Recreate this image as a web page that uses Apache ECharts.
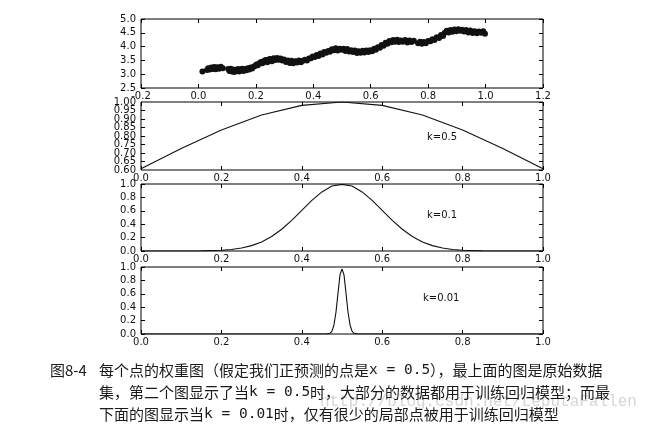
<!DOCTYPE html>
<html>
<head>
<meta charset="utf-8">
<script src="https://cdn.jsdelivr.net/npm/echarts@6/dist/echarts.min.js"></script>
<style>
html,body{margin:0;padding:0;background:#fff;}
#chart{width:652px;height:431px;}
</style>
</head>
<body>
<div id="chart"></div>
<script>
// ---- data ----
const dataX = [0.014,0.030,0.034,0.040,0.045,0.050,0.055,0.060,0.066,0.072,0.078,0.085,
  0.104,0.108,0.112,0.116,0.120,0.124,0.128,0.133,0.138,0.142,0.147,0.152,0.157,0.162,0.167,0.172,0.177,0.182,0.187,0.192,0.197,
  0.202,0.207,0.212,0.218,0.223,0.228,0.234,0.240,0.245,0.250,0.256,0.262,0.268,0.274,0.280,0.286,0.292,0.298,
  0.305,0.312,0.318,0.324,0.330,0.337,0.344,0.350,0.357,0.364,0.371,0.378,0.385,0.392,0.398,
  0.405,0.412,0.418,0.425,0.432,0.438,0.445,0.452,0.458,0.465,0.472,0.478,0.485,0.492,0.498,
  0.505,0.512,0.518,0.525,0.532,0.538,0.545,0.552,0.558,0.565,0.572,0.578,0.585,0.592,0.598,
  0.605,0.612,0.618,0.625,0.632,0.638,0.645,0.652,0.658,0.665,0.672,0.678,0.685,0.692,0.698,
  0.705,0.712,0.720,0.728,0.735,0.742,0.750,0.765,0.772,0.778,0.785,0.792,0.800,
  0.808,0.815,0.822,0.830,0.838,0.845,0.852,0.858,0.865,0.872,0.878,0.885,0.892,0.898,
  0.905,0.912,0.918,0.925,0.932,0.940,0.947,0.955,0.962,0.970,0.977,0.985,0.992,0.998];
const dataY = [3.10,3.15,3.22,3.17,3.24,3.19,3.26,3.18,3.25,3.20,3.27,3.22,
  3.19,3.12,3.20,3.10,3.17,3.08,3.16,3.11,3.19,3.10,3.16,3.20,3.12,3.19,3.14,3.22,3.17,3.24,3.21,3.27,3.30,
  3.35,3.32,3.40,3.44,3.40,3.48,3.51,3.43,3.53,3.55,3.47,3.58,3.51,3.59,3.52,3.57,3.50,3.53,
  3.44,3.50,3.41,3.49,3.40,3.47,3.42,3.50,3.43,3.49,3.52,3.50,3.57,3.58,3.64,
  3.62,3.70,3.66,3.75,3.71,3.80,3.78,3.84,3.81,3.90,3.87,3.94,3.86,3.92,3.89,
  3.92,3.84,3.91,3.82,3.87,3.80,3.86,3.77,3.83,3.78,3.85,3.79,3.86,3.80,3.87,
  3.83,3.92,3.89,3.98,3.96,4.06,4.03,4.14,4.10,4.20,4.16,4.24,4.18,4.25,4.17,
  4.22,4.18,4.24,4.15,4.22,4.17,4.21,4.12,4.18,4.10,4.17,4.12,4.20,
  4.19,4.27,4.24,4.34,4.31,4.42,4.38,4.50,4.57,4.51,4.60,4.54,4.62,4.56,
  4.63,4.57,4.61,4.55,4.60,4.51,4.58,4.49,4.56,4.48,4.55,4.50,4.56,4.47];

const k05X = [0.0,0.1,0.2,0.3,0.4,0.5,0.6,0.7,0.8,0.9,1.0];
const k05W = [0.607,0.726,0.835,0.923,0.980,1.0,0.980,0.923,0.835,0.726,0.607];

const k01X = [0.0,0.1,0.15,0.2,0.225,0.25,0.275,0.3,0.325,0.35,0.375,0.4,0.425,0.45,0.475,0.5,
  0.525,0.55,0.575,0.6,0.625,0.65,0.675,0.7,0.725,0.75,0.775,0.8,0.85,0.9,1.0];
const k01W = [0.0,0.0003,0.002,0.011,0.023,0.044,0.080,0.135,0.216,0.325,0.458,0.607,0.755,0.882,0.969,0.995,
  0.969,0.882,0.755,0.607,0.458,0.325,0.216,0.135,0.080,0.044,0.023,0.011,0.002,0.0003,0.0];

const k001X = [0.0,0.46,0.47,0.475,0.48,0.485,0.49,0.495,0.5,0.505,0.51,0.515,0.52,0.525,0.53,0.54,1.0];
const k001W = [0.0,0.0,0.011,0.044,0.135,0.325,0.607,0.882,0.97,0.882,0.607,0.325,0.135,0.044,0.011,0.0,0.0];

const kLabels = ['k=0.5','k=0.1','k=0.01'];
const captionNo = '图8-4';
const captionLines = [
  ['每个点的权重图（假定我们正预测的点是','x = 0.5','），最上面的图是原始数据'],
  ['集，第二个图显示了当','k = 0.5','时，大部分的数据都用于训练回归模型；而最'],
  ['下面的图显示当','k = 0.01','时，仅有很少的局部点被用于训练回归模型']
];
const watermark = 'http://blog.csdn.net/LeputaFallen';

// ---- chart ----
const pair = (xs, ys) => xs.map((x, i) => [x, ys[i]]);
const FONT = 'DejaVu Sans';
const grids = [
  {left:141, top:19, width:402, height:69},
  {left:141, top:102, width:402, height:68},
  {left:141, top:184, width:402, height:67},
  {left:141, top:267, width:402, height:67}
].map(g => Object.assign({show:true, borderColor:'#000', borderWidth:1, backgroundColor:'transparent', containLabel:false, outerBoundsMode:'none'}, g));

const xRanges = [[-0.2,1.2,0.2],[0,1,0.2],[0,1,0.2],[0,1,0.2]];
const yRanges = [[2.5,5.0,0.5,1],[0.6,1.0,0.05,2],[0,1,0.2,1],[0,1,0.2,1]];

const tick = {show:true, inside:true, length:4, lineStyle:{color:'#000', width:1}};
const noLine = {show:false, onZero:false};
const lab = {color:'#111', fontFamily:FONT, fontSize:10};
const xAxes = [], yAxes = [];
for (let i = 0; i < 4; i++) {
  const [xmin, xmax, xi] = xRanges[i];
  const [ymin, ymax, yi, yd] = yRanges[i];
  xAxes.push({type:'value', gridIndex:i, min:xmin, max:xmax, interval:xi, position:'bottom',
    axisLine:noLine, splitLine:{show:false}, axisTick:tick,
    axisLabel:Object.assign({margin:3, showMinLabel:true, showMaxLabel:true, formatter:v => v.toFixed(1)}, lab)});
  xAxes.push({type:'value', gridIndex:i, min:xmin, max:xmax, interval:xi, position:'top',
    axisLine:noLine, splitLine:{show:false}, axisTick:tick, axisLabel:{show:false}});
  const crowded = (i === 1);
  yAxes.push({type:'value', gridIndex:i, min:ymin, max:ymax, interval:yi, position:'left',
    axisLine:noLine, splitLine:{show:false}, axisTick:tick,
    axisLabel:Object.assign({margin:5, showMinLabel:!crowded, showMaxLabel:!crowded, formatter:v => v.toFixed(yd)}, lab)});
  yAxes.push({type:'value', gridIndex:i, min:ymin, max:ymax, interval:yi, position:'right',
    axisLine:noLine, splitLine:{show:false}, axisTick:tick, axisLabel:{show:false}});
  if (crowded) {
    // extra label-only axis for the end labels of the crowded axis
    yAxes.push({type:'value', gridIndex:i, min:ymin, max:ymax, interval:ymax - ymin, position:'left',
      axisLine:noLine, splitLine:{show:false}, axisTick:{show:false},
      axisLabel:Object.assign({margin:5, showMinLabel:true, showMaxLabel:true, formatter:v => v.toFixed(yd)}, lab)});
  }
}

const yIdx = [0, 2, 5, 7];
const lineSeries = (idx, xs, ws) => ({type:'line', xAxisIndex:idx*2, yAxisIndex:yIdx[idx], data:pair(xs, ws),
  showSymbol:false, symbol:'none', smooth:false, lineStyle:{color:'#111', width:1.1}, silent:true, animation:false});

const kPos = [[427,137],[427,215],[423,298]];
const graphics = [];
kLabels.forEach((t, i) => graphics.push({type:'text', x:kPos[i][0], y:kPos[i][1],
  style:{text:t, fill:'#111', font:'10px "DejaVu Sans"', textVerticalAlign:'middle'}}));

graphics.push({type:'text', x:320, y:402, z:1,
  style:{text:watermark, fill:'#d6d6d6', font:'16px "Liberation Mono"', textVerticalAlign:'middle'}});
graphics.push({type:'text', x:50, y:370, z:5,
  style:{text:captionNo, fill:'#1a1a1a', font:'15px "Noto Sans CJK SC"', textVerticalAlign:'middle'}});
const lineYs = [370, 392, 414];
captionLines.forEach((parts, i) => graphics.push({type:'text', x:99, y:lineYs[i], z:5,
  style:{text:'{a|' + parts[0] + '}{m|' + parts[1] + '}{a|' + parts[2] + '}',
    textVerticalAlign:'middle', fill:'#1a1a1a',
    rich:{a:{fontFamily:'Noto Sans CJK SC', fontSize:15, fill:'#1a1a1a', color:'#1a1a1a'},
          m:{fontFamily:'DejaVu Sans Mono', fontSize:14.5, fill:'#1a1a1a', color:'#1a1a1a'}}}}));

const option = {
  animation:false,
  backgroundColor:'#fff',
  grid:grids,
  xAxis:xAxes,
  yAxis:yAxes,
  series:[
    {type:'scatter', xAxisIndex:0, yAxisIndex:0, data:pair(dataX, dataY), symbolSize:6,
      itemStyle:{color:'#111', opacity:1}, silent:true},
    lineSeries(1, k05X, k05W),
    lineSeries(2, k01X, k01W),
    lineSeries(3, k001X, k001W)
  ],
  graphic:graphics
};
const chart = echarts.init(document.getElementById('chart'), null, {renderer:'canvas'});
chart.setOption(option);
</script>
</body>
</html>
